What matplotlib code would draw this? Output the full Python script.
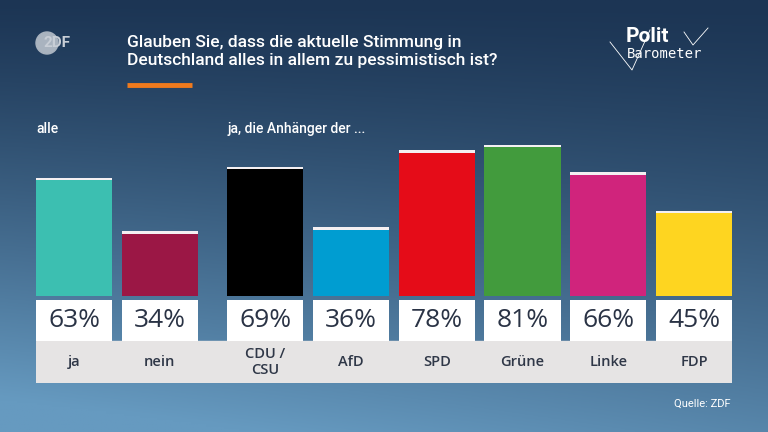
import numpy as np
import matplotlib
matplotlib.use("Agg")
import matplotlib.pyplot as plt

plt.rcParams['font.family'] = ['Roboto', 'DejaVu Sans']

# data
categories = ["ja", "nein", "CDU /\nCSU", "AfD", "SPD", "Grüne", "Linke", "FDP"]
values = [63, 34, 69, 36, 78, 81, 66, 45]
colors = ["#3cbfb1", "#9b1745", "#000000", "#009dd1", "#e50c18", "#429b3d", "#d0247c", "#fed520"]
positions = [0, 1, 2.23, 3.23, 4.23, 5.23, 6.23, 7.23]
title = "Glauben Sie, dass die aktuelle Stimmung in\nDeutschland alles in allem zu pessimistisch ist?"

W, H = 768, 432
fig = plt.figure(figsize=(W / 100, H / 100), dpi=100)

# background gradient
bg = fig.add_axes([0, 0, 1, 1])
yy, xx = np.mgrid[0:1:200j, 0:1:300j]
t = np.clip(yy ** 1.3 * 0.8 + (1 - xx) * yy * 0.3, 0, 1)
top = np.array([0x1c, 0x35, 0x54]) / 255
bot = np.array([0x66, 0x9a, 0xc0]) / 255
img = top + (bot - top) * t[..., None]
bg.imshow(img, extent=[0, W, H, 0], aspect='auto')
bg.set_xlim(0, W)
bg.set_ylim(H, 0)
bg.axis('off')

# header
bg.text(127, 51, title, color='white', fontsize=12.5, fontweight='medium',
        va='center', ha='left', linespacing=1.25)
bg.plot([127, 192], [85, 85], color='#f07a1d', lw=3.5, solid_capstyle='butt')
bg.add_patch(plt.Circle((47, 43), 11, color='#a9b3bf'))
bg.text(57, 43, "2DF", color='#c8ced6', fontsize=11, fontweight='bold', va='center', ha='center')
bg.text(626, 36, "Polit", color='white', fontsize=15, fontweight='bold', va='center', ha='left')
bg.text(627, 54, "Barometer", color='white', fontsize=10, va='center', ha='left',
        family=['DejaVu Sans Mono'])
bg.plot([610, 632, 650], [42, 70, 30], color='white', lw=0.6)
bg.plot([684, 693, 708], [32, 45, 28], color='white', lw=0.6)

bg.text(36, 129, "alle", color='white', fontsize=10, fontweight='medium', va='center')
bg.text(228, 129, "ja, die Anhänger der ...", color='white', fontsize=10,
        fontweight='medium', va='center')
bg.text(731, 404, "Quelle: ZDF", color='white', fontsize=8, ha='right', va='center')

# bar axes: x 36..732 px, y 130..383 px
px = 1.835  # pixels per percent
left, right = 36, 732
ytop, ybot, y0 = 130, 383, 296
ax = fig.add_axes([left / W, 1 - ybot / H, (right - left) / W, (ybot - ytop) / H])
bw = 0.887
ax.set_xlim(positions[0] - bw / 2, positions[-1] + bw / 2)
ax.set_ylim(-(ybot - y0) / px, (y0 - ytop) / px)
ax.axis('off')

ax.bar(positions, values, width=bw, color=colors)
ax.bar(positions, [1.4] * len(values), bottom=values, width=bw, color='#f4f0f2')
ax.axhspan(-(ybot - y0) / px, -(341 - y0) / px, color='#e6e4e4')
box_top, box_bot = -(300 - y0) / px, -(341 - y0) / px
ax.bar(positions, [box_top - box_bot] * len(values), bottom=box_bot, width=bw, color='white')
for p, v, c in zip(positions, values, categories):
    ax.text(p, (box_top + box_bot) / 2, f"{v}%", ha='center', va='center',
            fontsize=19, color='#2a3345', family=['Open Sans', 'DejaVu Sans'])
    ax.text(p, -(362 - y0) / px, c, ha='center', va='center', fontsize=10.5,
            fontweight='semibold', color='#2f3747', linespacing=1.1,
            family=['Open Sans', 'DejaVu Sans'])

fig.savefig("out.png", dpi=100)
